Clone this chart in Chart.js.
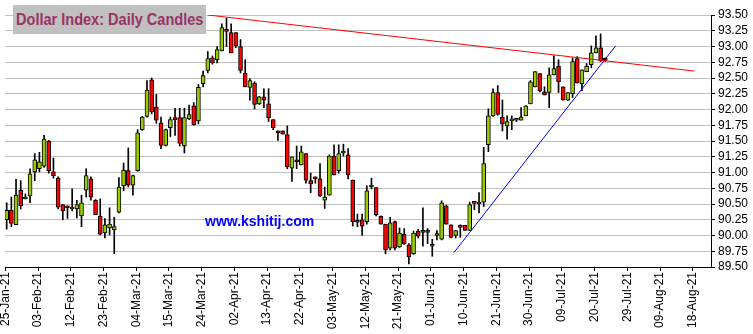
<!DOCTYPE html>
<html>
<head>
<meta charset="utf-8">
<script src="https://cdn.jsdelivr.net/npm/chart.js@4.4.1/dist/chart.umd.min.js"></script>
<style>
  body { margin: 0; background: #fff; }
  #wrap { position: relative; width: 753px; height: 334px; }
  #title { position: absolute; left: 13px; top: 5px; width: 193px; height: 29px; background: #c0c0c0;
           color: #993366; font: bold 17px "Liberation Sans", Arial, sans-serif; line-height: 29px;
           white-space: nowrap; overflow: hidden; }
  #title span { position: absolute; left: 3px; top: 0; transform: scaleX(0.855); transform-origin: left center; }
  #site { position: absolute; left: 205px; top: 213px; color: #0000ff;
          font: bold 14px "Liberation Sans", Arial, sans-serif; line-height: 16px; }
</style>
</head>
<body>
<div id="wrap">
  <canvas id="js--chart" width="753" height="334"></canvas>
  <div id="title"><span>Dollar Index: Daily Candles</span></div>
  <div id="site">www.kshitij.com</div>
</div>
<script>
// dagkaarsen, 1 per handelsdag vanaf 25-Jan-21
const tickLabels = ["25-Jan-21", "03-Feb-21", "12-Feb-21", "23-Feb-21", "04-Mar-21", "15-Mar-21",
  "24-Mar-21", "02-Apr-21", "13-Apr-21", "22-Apr-21", "03-May-21", "12-May-21", "21-May-21",
  "01-Jun-21", "10-Jun-21", "21-Jun-21", "30-Jun-21", "09-Jul-21", "20-Jul-21", "29-Jul-21",
  "09-Aug-21", "18-Aug-21"];

const opens = [90.25, 90.40, 90.17, 90.72, 90.58, 90.63, 91.01, 91.06, 91.10, 91.50,
  91.01, 90.91, 90.49, 90.45, 90.42, 90.42, 90.31, 90.72, 90.90, 90.56,
  90.31, 90.04, 90.12, 90.09, 90.37, 90.79, 91.03, 90.80, 91.03, 91.68,
  91.89, 92.47, 92.04, 91.79, 91.43, 91.71, 91.85, 91.87, 91.42, 91.85,
  92.06, 91.82, 92.41, 92.62, 92.82, 92.79, 92.93, 93.25, 93.22, 93.22,
  93.00, 92.58, 92.35, 92.42, 92.09, 92.20, 92.09, 91.84, 91.64, 91.66,
  91.60, 91.07, 91.20, 91.12, 91.30, 90.87, 90.91, 90.90, 90.56, 90.64,
  91.26, 91.03, 91.31, 91.28, 90.88, 90.22, 90.25, 90.22, 90.77, 90.76,
  90.31, 90.18, 89.80, 90.22, 89.82, 90.02, 89.85, 89.71, 90.07, 90.06,
  90.06, 89.83, 90.00, 89.94, 90.47, 90.17, 90.00, 90.14, 90.16, 90.08,
  90.52, 90.50, 90.53, 91.44, 91.90, 92.27, 91.88, 91.74, 91.82, 91.83,
  91.83, 91.90, 92.09, 92.36, 92.57, 92.28, 92.27, 92.55, 92.69, 92.36,
  92.15, 92.25, 92.81, 92.41, 92.60, 92.71, 92.90, 92.98, 92.79];
const highs = [90.52, 90.61, 90.89, 90.87, 90.66, 91.06, 91.30, 91.32, 91.59, 91.51,
  91.23, 90.93, 90.49, 90.47, 90.74, 90.56, 90.64, 91.06, 90.93, 90.57,
  90.58, 90.27, 90.44, 90.29, 90.92, 91.15, 91.39, 90.96, 91.68, 91.89,
  92.46, 92.50, 92.24, 91.88, 91.69, 91.88, 92.02, 92.02, 92.02, 92.07,
  92.11, 92.40, 92.61, 92.92, 92.85, 93.00, 93.36, 93.45, 93.36, 93.22,
  93.11, 92.79, 92.49, 92.44, 92.21, 92.33, 92.33, 91.84, 91.66, 91.66,
  91.74, 91.25, 91.42, 91.42, 91.30, 90.99, 90.93, 91.14, 90.77, 91.28,
  91.44, 91.44, 91.45, 91.38, 90.88, 90.34, 90.34, 90.79, 90.91, 90.76,
  90.31, 90.18, 90.29, 90.23, 90.12, 90.11, 89.87, 90.07, 90.10, 90.44,
  90.11, 89.94, 90.08, 90.55, 90.48, 90.17, 90.08, 90.17, 90.16, 90.53,
  90.52, 90.68, 91.40, 92.01, 92.33, 92.38, 92.15, 91.90, 91.90, 91.85,
  92.03, 92.06, 92.46, 92.60, 92.57, 92.36, 92.66, 92.85, 92.79, 92.36,
  92.27, 92.82, 92.84, 92.63, 92.73, 93.01, 93.17, 93.20, 92.82];
const lows = [90.10, 90.14, 90.17, 90.42, 90.58, 90.52, 90.87, 91.01, 91.08, 90.99,
  90.91, 90.42, 90.25, 90.27, 90.39, 90.28, 90.14, 90.61, 90.56, 90.33,
  90.01, 89.96, 90.01, 89.71, 90.36, 90.71, 90.77, 90.64, 91.02, 91.67,
  91.88, 91.93, 91.78, 91.38, 91.42, 91.57, 91.59, 91.42, 91.31, 91.84,
  91.75, 91.77, 92.36, 92.58, 92.72, 92.74, 92.93, 93.00, 92.90, 92.98,
  92.58, 92.36, 92.15, 92.01, 92.08, 92.03, 91.81, 91.68, 91.51, 91.61,
  91.06, 90.86, 91.06, 91.12, 90.83, 90.68, 90.83, 90.62, 90.43, 90.64,
  90.96, 90.99, 91.26, 90.90, 90.15, 90.14, 90.00, 90.18, 90.74, 90.31,
  90.18, 89.71, 89.77, 89.77, 89.81, 89.86, 89.55, 89.70, 89.96, 89.83,
  89.87, 89.67, 89.93, 89.93, 90.18, 89.96, 89.96, 89.97, 90.08, 90.08,
  90.41, 90.36, 90.46, 91.33, 91.89, 91.91, 91.66, 91.53, 91.68, 91.81,
  91.83, 91.90, 92.09, 92.36, 92.28, 92.23, 92.03, 92.55, 92.27, 92.15,
  92.14, 92.19, 92.42, 92.30, 92.60, 92.66, 92.90, 92.76, 92.76];
const closes = [90.40, 90.19, 90.64, 90.47, 90.61, 90.98, 91.20, 91.17, 91.53, 91.03,
  90.95, 90.45, 90.39, 90.44, 90.45, 90.49, 90.52, 90.95, 90.61, 90.33,
  90.02, 90.17, 90.18, 90.14, 90.77, 91.04, 90.80, 90.95, 91.63, 91.88,
  92.31, 91.96, 91.83, 91.43, 91.68, 91.84, 91.84, 91.46, 91.87, 91.92,
  91.76, 92.35, 92.54, 92.81, 92.74, 92.95, 93.30, 93.24, 92.90, 93.01,
  92.62, 92.36, 92.46, 92.08, 92.20, 92.15, 91.87, 91.71, 91.63, 91.61,
  91.09, 91.25, 91.17, 91.33, 90.88, 90.82, 90.90, 90.63, 90.61, 91.26,
  90.96, 91.30, 91.32, 90.96, 90.22, 90.21, 90.15, 90.71, 90.78, 90.33,
  90.18, 89.77, 90.20, 89.80, 90.04, 89.87, 89.66, 90.04, 89.99, 90.05,
  90.05, 89.84, 90.02, 90.52, 90.18, 89.97, 90.08, 90.13, 90.08, 90.49,
  90.51, 90.53, 91.14, 91.90, 92.27, 91.92, 91.77, 91.81, 91.83, 91.84,
  91.88, 92.06, 92.44, 92.60, 92.30, 92.23, 92.55, 92.65, 92.44, 92.15,
  92.27, 92.76, 92.42, 92.63, 92.69, 92.90, 92.98, 92.77, 92.78];

// trendlijnen (x = dagnummer)
const resistX = [43.05, 147.05];
const resistY = [93.50, 92.61];
const supportX = [95.65, 130.2];
const supportY = [89.73, 93.01];

const days = opens.map((o, i) => i);
const wickData = days.map(i => ({ x: i, y: [lows[i], highs[i]] }));
const bodyData = days.map(i => ({ x: i, y: [opens[i], closes[i]] }));
const bodyColors = days.map(i => closes[i] >= opens[i] ? '#99cc00' : '#ff0000');

const font = { family: '"Liberation Sans", Arial, sans-serif', size: 12 };

const config = {
    type: 'bar',
    data: {
        datasets: [
            {
                type: 'line',
                data: resistX.map((x, i) => ({ x: x, y: resistY[i] })),
                borderColor: '#ff0000', borderWidth: 1, pointRadius: 0, order: 0
            },
            {
                type: 'line',
                data: supportX.map((x, i) => ({ x: x, y: supportY[i] })),
                borderColor: '#0000ff', borderWidth: 1, pointRadius: 0, order: 0
            },
            {
                data: bodyData,
                backgroundColor: bodyColors,
                borderColor: '#000', borderWidth: 1, borderSkipped: false,
                barThickness: 4, minBarLength: 2, grouped: false, order: 1
            },
            {
                data: wickData,
                backgroundColor: '#000', borderWidth: 0,
                barThickness: 1, grouped: false, order: 2
            }
        ]
    },
    options: {
        responsive: false,
        animation: false,
        layout: { padding: { left: 5, top: 15, right: 0, bottom: 0 } },
        plugins: { legend: { display: false }, tooltip: { enabled: false } },
        scales: {
            x: {
                type: 'linear', min: -0.36, max: 150.6, offset: false,
                grid: { drawOnChartArea: false, offset: false, tickLength: 4, tickColor: '#000' },
                border: { color: '#000' },
                afterBuildTicks: s => { s.ticks = tickLabels.map((t, k) => ({ value: 7 * k - 0.3 })); },
                afterFit: s => { s.height = 67; },
                ticks: {
                    autoSkip: false, minRotation: 90, maxRotation: 90, padding: 1,
                    color: '#000', font: font,
                    callback: (v, k) => tickLabels[k]
                }
            },
            y: {
                position: 'right', min: 89.5, max: 93.5,
                grid: { color: '#c0c0c0', tickColor: '#000', tickLength: 4 },
                border: { color: '#000' },
                afterFit: s => { s.width = 42; },
                ticks: {
                    stepSize: 0.25, autoSkip: false, padding: 3, color: '#000', font: font,
                    callback: v => v.toFixed(2)
                }
            }
        }
    }
};

new Chart(document.getElementById("js--chart"), config);
</script>
</body>
</html>
